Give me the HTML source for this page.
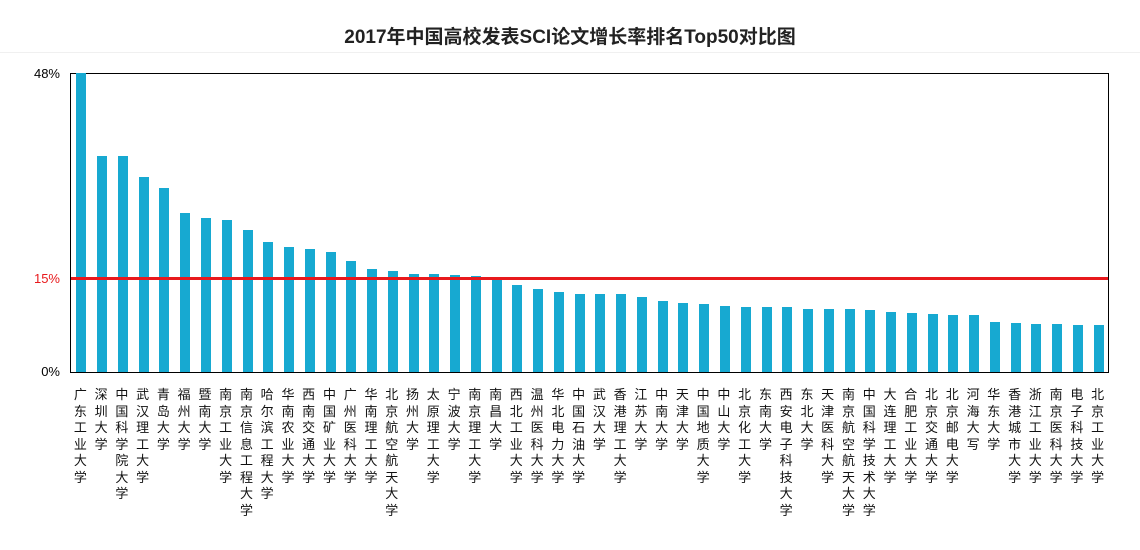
<!DOCTYPE html>
<html><head><meta charset="utf-8"><style>
body{margin:0;width:1140px;height:550px;background:#fff;position:relative;overflow:hidden;font-family:"Liberation Sans","Noto Sans CJK SC",sans-serif}
.t{position:absolute;top:22px;left:0;width:1140px;text-align:center;font-size:19px;font-weight:bold;color:#222}
.hl{position:absolute;top:52px;left:0;width:1140px;height:1px;background:#f0f0f0}
.plot{position:absolute;left:70px;top:73px;width:1037px;height:298px;border:1px solid #000}
.b{position:absolute;width:10px;background:#17a9d1;bottom:0}
.red{position:absolute;left:0;width:1037px;top:203px;height:3px;background:#e8191c}
.y{position:absolute;font-size:13px;right:1080px;color:#000}
.l{position:absolute;top:387px;width:16px;font-size:13px;line-height:16.5px;text-align:center;color:#111;word-break:break-all}
</style></head><body>
<div class="t">2017年中国高校发表SCI论文增长率排名Top50对比图</div>
<div class="hl"></div>
<div class="y" style="top:66px">48%</div>
<div class="y" style="top:271px;color:#e8191c">15%</div>
<div class="y" style="top:364px">0%</div>
<div class="plot" id="p"></div>
<div id="labels"></div>
<script>
var tops=[73,156,156,177,188,213,218,220,230,242,247,249,252,261,269,271,274,274,275,276,279,285,289,292,294,294,294,297,301,303,304,306,307,307,307,309,309,309,310,312,313,314,315,315,322,323,324,324,325,325];
var names="广东工业大学,深圳大学,中国科学院大学,武汉理工大学,青岛大学,福州大学,暨南大学,南京工业大学,南京信息工程大学,哈尔滨工程大学,华南农业大学,西南交通大学,中国矿业大学,广州医科大学,华南理工大学,北京航空航天大学,扬州大学,太原理工大学,宁波大学,南京理工大学,南昌大学,西北工业大学,温州医科大学,华北电力大学,中国石油大学,武汉大学,香港理工大学,江苏大学,中南大学,天津大学,中国地质大学,中山大学,北京化工大学,东南大学,西安电子科技大学,东北大学,天津医科大学,南京航空航天大学,中国科学技术大学,大连理工大学,合肥工业大学,北京交通大学,北京邮电大学,河海大写,华东大学,香港城市大学,浙江工业大学,南京医科大学,电子科技大学,北京工业大学".split(",");
var p=document.getElementById('p'),L=document.getElementById('labels'),h='',lh='';
for(var i=0;i<50;i++){var c=20.76*(i+0.5);h+='<div class="b" style="left:'+(c-5).toFixed(1)+'px;height:'+(372-tops[i])+'px"></div>';
lh+='<div class="l" style="left:'+(70+c-8).toFixed(1)+'px">'+names[i]+'</div>';}
h+='<div class="red"></div>';
p.innerHTML=h;L.innerHTML=lh;
</script>
</body></html>
